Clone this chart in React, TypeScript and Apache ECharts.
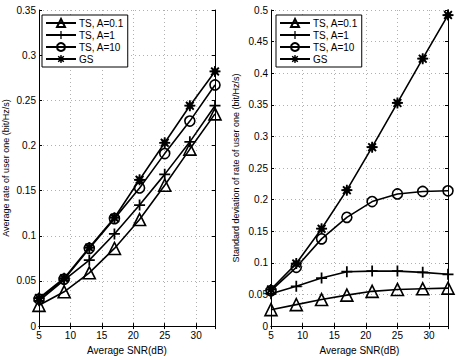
import React, { useEffect, useRef } from "react";
import * as echarts from "echarts";

const snr = [5, 9, 13, 17, 21, 25, 29, 33];
const seriesNames = ["TS, A=0.1", "TS, A=1", "TS, A=10", "GS"];

const rateTs01 = [0.023, 0.038, 0.059, 0.086, 0.118, 0.156, 0.196, 0.235];
const rateTs1 = [0.028, 0.051, 0.073, 0.102, 0.134, 0.168, 0.204, 0.244];
const rateTs10 = [0.030, 0.052, 0.086, 0.119, 0.153, 0.191, 0.227, 0.267];
const rateGs = [0.031, 0.053, 0.087, 0.120, 0.162, 0.203, 0.244, 0.282];

const stdTs01 = [0.026, 0.034, 0.042, 0.049, 0.055, 0.058, 0.059, 0.060];
const stdTs1 = [0.051, 0.063, 0.076, 0.086, 0.087, 0.087, 0.085, 0.082];
const stdTs10 = [0.056, 0.093, 0.138, 0.172, 0.197, 0.209, 0.213, 0.214];
const stdGs = [0.058, 0.099, 0.154, 0.215, 0.283, 0.353, 0.423, 0.492];

function fmt(n: number) {
  return n.toFixed(2);
}

// 8-pointed star polygon (non self-intersecting) for the "GS" marker
function starPath() {
  const c = 10;
  const Ro = 10;
  const Ri = 5.2;
  const delta = (9 * Math.PI) / 180;
  const pts: string[] = [];
  for (let k = 0; k < 8; k++) {
    const th = (k * Math.PI) / 4;
    pts.push(fmt(c + Ro * Math.cos(th - delta)) + "," + fmt(c + Ro * Math.sin(th - delta)));
    pts.push(fmt(c + Ro * Math.cos(th + delta)) + "," + fmt(c + Ro * Math.sin(th + delta)));
    const tm = th + Math.PI / 8;
    pts.push(fmt(c + Ri * Math.cos(tm)) + "," + fmt(c + Ri * Math.sin(tm)));
  }
  return "path://M" + pts.join("L") + "Z";
}

const plusPath =
  "path://M8.4,0L11.6,0L11.6,8.4L20,8.4L20,11.6L11.6,11.6L11.6,20L8.4,20L8.4,11.6L0,11.6L0,8.4L8.4,8.4Z";
const star = starPath();

const FONT = "Liberation Sans";

export default function App() {
  const ref = useRef<HTMLDivElement>(null);
  useEffect(() => {
    if (!ref.current) return;
    const chart = echarts.init(ref.current, null, { renderer: "svg" });

    const grids = [
      { left: 38, top: 10, width: 177, height: 323 },
      { left: 271, top: 10, width: 177, height: 323 },
    ];
    const yMax = [0.35, 0.5];
    const yNames = [
      "Average rate of user one (bit/Hz/s)",
      "Standard deviation of rate of user one (bit/Hz/s)",
    ];
    const yGaps = [29, 31];

    const xAxis: any[] = [];
    const yAxis: any[] = [];
    grids.forEach((_, gi) => {
      xAxis.push({
        type: "value",
        gridIndex: gi,
        position: "bottom",
        min: 5,
        max: 33,
        interval: 5,
        name: "Average SNR(dB)",
        nameLocation: "middle",
        nameGap: 17,
        nameTextStyle: { fontFamily: FONT, fontSize: 10, color: "#000" },
        axisLine: { show: true, lineStyle: { color: "#000", width: 1 } },
        axisTick: { show: true, inside: true, length: 3, lineStyle: { color: "#000" } },
        axisLabel: {
          fontFamily: FONT,
          fontSize: 10,
          color: "#000",
          margin: 4,
          showMaxLabel: false,
          formatter: (v: number) => (v === 33 ? "" : String(v)),
        },
        splitLine: { show: true, lineStyle: { color: "#b0b0b0", type: [1, 3], width: 1 } },
      });
      xAxis.push({
        type: "value",
        gridIndex: gi,
        position: "top",
        min: 5,
        max: 33,
        interval: 5,
        axisLine: { show: true, lineStyle: { color: "#000", width: 1 } },
        axisTick: { show: true, inside: true, length: 3, lineStyle: { color: "#000" } },
        axisLabel: { show: false },
        splitLine: { show: false },
      });
      yAxis.push({
        type: "value",
        gridIndex: gi,
        position: "left",
        min: 0,
        max: yMax[gi],
        interval: 0.05,
        name: yNames[gi],
        nameLocation: "middle",
        nameGap: yGaps[gi],
        nameTextStyle: { fontFamily: FONT, fontSize: 9, color: "#000" },
        axisLine: { show: true, lineStyle: { color: "#000", width: 1 } },
        axisTick: { show: true, inside: true, length: 3, lineStyle: { color: "#000" } },
        axisLabel: {
          fontFamily: FONT,
          fontSize: 10,
          color: "#000",
          margin: 3,
          formatter: (v: number) => String(parseFloat(v.toFixed(2))),
        },
        splitLine: { show: true, lineStyle: { color: "#b0b0b0", type: [1, 3], width: 1 } },
      });
      yAxis.push({
        type: "value",
        gridIndex: gi,
        position: "right",
        min: 0,
        max: yMax[gi],
        interval: 0.05,
        axisLine: { show: true, lineStyle: { color: "#000", width: 1 } },
        axisTick: { show: true, inside: true, length: 3, lineStyle: { color: "#000" } },
        axisLabel: { show: false },
        splitLine: { show: false },
      });
    });

    const symbols = ["triangle", plusPath, "circle", star];
    const sizes = [12, 11, 10, 11];
    const hollow = [true, false, true, false];
    const leftData = [rateTs01, rateTs1, rateTs10, rateGs];
    const rightData = [stdTs01, stdTs1, stdTs10, stdGs];

    const series: any[] = [];
    [leftData, rightData].forEach((set, gi) => {
      set.forEach((vals, si) => {
        series.push({
          type: "line",
          name: seriesNames[si],
          xAxisIndex: gi * 2,
          yAxisIndex: gi * 2,
          data: snr.map((x, i) => [x, vals[i]]),
          symbol: symbols[si],
          symbolSize: sizes[si],
          showAllSymbol: true,
          lineStyle: { color: "#000", width: 1.6 },
          itemStyle: hollow[si]
            ? { color: "rgba(255,255,255,0)", borderColor: "#000", borderWidth: 1.6 }
            : { color: "#000", borderWidth: 0 },
          emphasis: { disabled: true },
          z: 3 + si,
        });
      });
    });

    const legendBase = {
      orient: "vertical",
      itemWidth: 30,
      itemHeight: 10,
      itemGap: 2,
      padding: [3, 4, 3, 3],
      backgroundColor: "#fff",
      borderColor: "#000",
      borderWidth: 1,
      textStyle: { fontFamily: FONT, fontSize: 10, color: "#000", padding: [0, 0, 0, -2] },
      data: seriesNames,
      selectedMode: false,
    };

    chart.setOption({
      animation: false,
      backgroundColor: "#fff",
      grid: grids.map((g) => ({ ...g, containLabel: false })),
      xAxis,
      yAxis,
      series,
      legend: [
        { ...legendBase, left: 42, top: 15 },
        { ...legendBase, left: 276, top: 15 },
      ],
    });
    return () => chart.dispose();
  }, []);

  return (
    <div
      ref={ref}
      style={{ position: "absolute", left: 0, top: 0, width: 457, height: 360 }}
    />
  );
}
